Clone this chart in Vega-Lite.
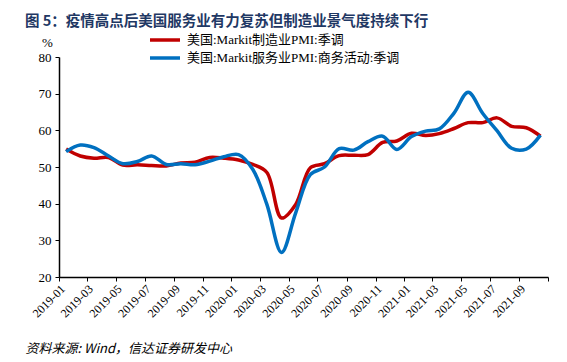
{
  "$schema": "https://vega.github.io/schema/vega-lite/v6.json",
  "width": 489,
  "height": 220,
  "autosize": "none",
  "padding": {"left": 59, "top": 57, "right": 19, "bottom": 85},
  "background": "white",
  "title": {
    "text": "图 5：疫情高点后美国服务业有力复苏但制造业景气度持续下行",
    "anchor": "start",
    "frame": "group",
    "dx": -34,
    "dy": 4,
    "font": "Noto Sans CJK SC",
    "fontSize": 14.5,
    "fontWeight": "bold",
    "color": "#1F3864",
    "offset": 8
  },
  "data": {
    "values": [
      {"date": "2019-01-16", "series": "美国:Markit制造业PMI:季调", "value": 54.9},
      {"date": "2019-02-15", "series": "美国:Markit制造业PMI:季调", "value": 53.0},
      {"date": "2019-03-16", "series": "美国:Markit制造业PMI:季调", "value": 52.4},
      {"date": "2019-04-16", "series": "美国:Markit制造业PMI:季调", "value": 52.6},
      {"date": "2019-05-16", "series": "美国:Markit制造业PMI:季调", "value": 50.5},
      {"date": "2019-06-16", "series": "美国:Markit制造业PMI:季调", "value": 50.6},
      {"date": "2019-07-16", "series": "美国:Markit制造业PMI:季调", "value": 50.4},
      {"date": "2019-08-16", "series": "美国:Markit制造业PMI:季调", "value": 50.3},
      {"date": "2019-09-16", "series": "美国:Markit制造业PMI:季调", "value": 51.1},
      {"date": "2019-10-16", "series": "美国:Markit制造业PMI:季调", "value": 51.3},
      {"date": "2019-11-16", "series": "美国:Markit制造业PMI:季调", "value": 52.6},
      {"date": "2019-12-16", "series": "美国:Markit制造业PMI:季调", "value": 52.4},
      {"date": "2020-01-16", "series": "美国:Markit制造业PMI:季调", "value": 51.9},
      {"date": "2020-02-15", "series": "美国:Markit制造业PMI:季调", "value": 50.7},
      {"date": "2020-03-16", "series": "美国:Markit制造业PMI:季调", "value": 48.5},
      {"date": "2020-04-16", "series": "美国:Markit制造业PMI:季调", "value": 36.1},
      {"date": "2020-05-16", "series": "美国:Markit制造业PMI:季调", "value": 39.8},
      {"date": "2020-06-16", "series": "美国:Markit制造业PMI:季调", "value": 49.8},
      {"date": "2020-07-16", "series": "美国:Markit制造业PMI:季调", "value": 50.9},
      {"date": "2020-08-16", "series": "美国:Markit制造业PMI:季调", "value": 53.1},
      {"date": "2020-09-16", "series": "美国:Markit制造业PMI:季调", "value": 53.2},
      {"date": "2020-10-16", "series": "美国:Markit制造业PMI:季调", "value": 53.4},
      {"date": "2020-11-16", "series": "美国:Markit制造业PMI:季调", "value": 56.7},
      {"date": "2020-12-16", "series": "美国:Markit制造业PMI:季调", "value": 57.1},
      {"date": "2021-01-16", "series": "美国:Markit制造业PMI:季调", "value": 59.2},
      {"date": "2021-02-15", "series": "美国:Markit制造业PMI:季调", "value": 58.6},
      {"date": "2021-03-16", "series": "美国:Markit制造业PMI:季调", "value": 59.1},
      {"date": "2021-04-16", "series": "美国:Markit制造业PMI:季调", "value": 60.5},
      {"date": "2021-05-16", "series": "美国:Markit制造业PMI:季调", "value": 62.1},
      {"date": "2021-06-16", "series": "美国:Markit制造业PMI:季调", "value": 62.1},
      {"date": "2021-07-16", "series": "美国:Markit制造业PMI:季调", "value": 63.4},
      {"date": "2021-08-16", "series": "美国:Markit制造业PMI:季调", "value": 61.1},
      {"date": "2021-09-16", "series": "美国:Markit制造业PMI:季调", "value": 60.7},
      {"date": "2021-10-16", "series": "美国:Markit制造业PMI:季调", "value": 58.4},
      {"date": "2019-01-16", "series": "美国:Markit服务业PMI:商务活动:季调", "value": 54.2},
      {"date": "2019-02-15", "series": "美国:Markit服务业PMI:商务活动:季调", "value": 56.0},
      {"date": "2019-03-16", "series": "美国:Markit服务业PMI:商务活动:季调", "value": 55.3},
      {"date": "2019-04-16", "series": "美国:Markit服务业PMI:商务活动:季调", "value": 53.0},
      {"date": "2019-05-16", "series": "美国:Markit服务业PMI:商务活动:季调", "value": 50.9},
      {"date": "2019-06-16", "series": "美国:Markit服务业PMI:商务活动:季调", "value": 51.5},
      {"date": "2019-07-16", "series": "美国:Markit服务业PMI:商务活动:季调", "value": 53.0},
      {"date": "2019-08-16", "series": "美国:Markit服务业PMI:商务活动:季调", "value": 50.7},
      {"date": "2019-09-16", "series": "美国:Markit服务业PMI:商务活动:季调", "value": 50.9},
      {"date": "2019-10-16", "series": "美国:Markit服务业PMI:商务活动:季调", "value": 50.6},
      {"date": "2019-11-16", "series": "美国:Markit服务业PMI:商务活动:季调", "value": 51.6},
      {"date": "2019-12-16", "series": "美国:Markit服务业PMI:商务活动:季调", "value": 52.8},
      {"date": "2020-01-16", "series": "美国:Markit服务业PMI:商务活动:季调", "value": 53.4},
      {"date": "2020-02-15", "series": "美国:Markit服务业PMI:商务活动:季调", "value": 49.4},
      {"date": "2020-03-16", "series": "美国:Markit服务业PMI:商务活动:季调", "value": 39.8},
      {"date": "2020-04-16", "series": "美国:Markit服务业PMI:商务活动:季调", "value": 26.7},
      {"date": "2020-05-16", "series": "美国:Markit服务业PMI:商务活动:季调", "value": 37.5},
      {"date": "2020-06-16", "series": "美国:Markit服务业PMI:商务活动:季调", "value": 47.9},
      {"date": "2020-07-16", "series": "美国:Markit服务业PMI:商务活动:季调", "value": 50.0},
      {"date": "2020-08-16", "series": "美国:Markit服务业PMI:商务活动:季调", "value": 55.0},
      {"date": "2020-09-16", "series": "美国:Markit服务业PMI:商务活动:季调", "value": 54.6},
      {"date": "2020-10-16", "series": "美国:Markit服务业PMI:商务活动:季调", "value": 56.9},
      {"date": "2020-11-16", "series": "美国:Markit服务业PMI:商务活动:季调", "value": 58.4},
      {"date": "2020-12-16", "series": "美国:Markit服务业PMI:商务活动:季调", "value": 54.8},
      {"date": "2021-01-16", "series": "美国:Markit服务业PMI:商务活动:季调", "value": 58.3},
      {"date": "2021-02-15", "series": "美国:Markit服务业PMI:商务活动:季调", "value": 59.8},
      {"date": "2021-03-16", "series": "美国:Markit服务业PMI:商务活动:季调", "value": 60.4},
      {"date": "2021-04-16", "series": "美国:Markit服务业PMI:商务活动:季调", "value": 64.7},
      {"date": "2021-05-16", "series": "美国:Markit服务业PMI:商务活动:季调", "value": 70.4},
      {"date": "2021-06-16", "series": "美国:Markit服务业PMI:商务活动:季调", "value": 64.6},
      {"date": "2021-07-16", "series": "美国:Markit服务业PMI:商务活动:季调", "value": 59.9},
      {"date": "2021-08-16", "series": "美国:Markit服务业PMI:商务活动:季调", "value": 55.1},
      {"date": "2021-09-16", "series": "美国:Markit服务业PMI:商务活动:季调", "value": 54.9},
      {"date": "2021-10-16", "series": "美国:Markit服务业PMI:商务活动:季调", "value": 58.7}
    ]
  },
  "mark": {"type": "line", "interpolate": "catmull-rom", "strokeWidth": 3.5},
  "encoding": {
    "x": {
      "field": "date",
      "type": "temporal",
      "scale": {
        "type": "utc",
        "domain": [
          {"year": 2019, "month": 1, "date": 1, "utc": true},
          {"year": 2021, "month": 11, "date": 1, "utc": true}
        ]
      },
      "axis": {
        "values": [
          {"year": 2019, "month": 1, "date": 1, "utc": true},
          {"year": 2019, "month": 3, "date": 1, "utc": true},
          {"year": 2019, "month": 5, "date": 1, "utc": true},
          {"year": 2019, "month": 7, "date": 1, "utc": true},
          {"year": 2019, "month": 9, "date": 1, "utc": true},
          {"year": 2019, "month": 11, "date": 1, "utc": true},
          {"year": 2020, "month": 1, "date": 1, "utc": true},
          {"year": 2020, "month": 3, "date": 1, "utc": true},
          {"year": 2020, "month": 5, "date": 1, "utc": true},
          {"year": 2020, "month": 7, "date": 1, "utc": true},
          {"year": 2020, "month": 9, "date": 1, "utc": true},
          {"year": 2020, "month": 11, "date": 1, "utc": true},
          {"year": 2021, "month": 1, "date": 1, "utc": true},
          {"year": 2021, "month": 3, "date": 1, "utc": true},
          {"year": 2021, "month": 5, "date": 1, "utc": true},
          {"year": 2021, "month": 7, "date": 1, "utc": true},
          {"year": 2021, "month": 9, "date": 1, "utc": true},
          {"year": 2021, "month": 11, "date": 1, "utc": true}
        ],
        "labelExpr": "utcFormat(datum.value, '%Y-%m') == '2021-11' ? '' : utcFormat(datum.value, '%Y-%m')",
        "labelAngle": -45,
        "labelAlign": "right",
        "labelBaseline": "top",
        "labelFont": "Liberation Serif",
        "labelFontSize": 12,
        "labelColor": "black",
        "labelPadding": 2,
        "labelOverlap": false,
        "labelFlush": false,
        "grid": false,
        "domainColor": "black",
        "domainWidth": 1.5,
        "tickColor": "black",
        "tickSize": 4,
        "title": "资料来源: Wind，信达证券研发中心",
        "titleAnchor": "start",
        "titleAlign": "left",
        "titleX": -34,
        "titleY": 71,
        "titleBaseline": "middle",
        "titleFont": "Noto Sans CJK SC",
        "titleFontSize": 13,
        "titleFontStyle": "italic",
        "titleFontWeight": "normal",
        "titleColor": "black"
      }
    },
    "y": {
      "field": "value",
      "type": "quantitative",
      "scale": {"domain": [20, 80], "nice": false, "zero": false},
      "axis": {
        "values": [20, 30, 40, 50, 60, 70, 80],
        "labelFont": "Liberation Serif",
        "labelFontSize": 13,
        "labelColor": "black",
        "labelPadding": 4,
        "grid": false,
        "domainColor": "black",
        "domainWidth": 1.5,
        "tickColor": "black",
        "tickSize": 4,
        "title": "%",
        "titleAngle": 0,
        "titleX": -12,
        "titleY": -15,
        "titleAlign": "center",
        "titleBaseline": "middle",
        "titleFont": "Liberation Serif",
        "titleFontSize": 13,
        "titleFontWeight": "normal",
        "titleColor": "black"
      }
    },
    "color": {
      "field": "series",
      "type": "nominal",
      "sort": ["美国:Markit制造业PMI:季调", "美国:Markit服务业PMI:商务活动:季调"],
      "scale": {"range": ["#C00000", "#0070C0"]},
      "legend": {
        "orient": "none",
        "legendX": 99,
        "legendY": -24,
        "title": null,
        "symbolType": "M-3,0H3",
        "symbolSize": 100,
        "symbolStrokeWidth": 3.5,
        "rowPadding": 4,
        "labelFont": "Liberation Serif, Noto Sans CJK SC",
        "labelFontSize": 13,
        "labelColor": "black",
        "labelOffset": 15,
        "labelLimit": 400
      }
    }
  },
  "config": {"view": {"stroke": null}}
}
